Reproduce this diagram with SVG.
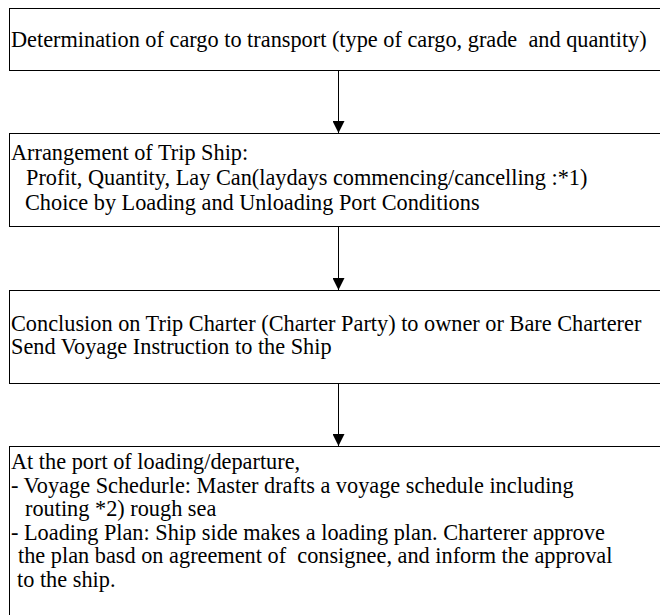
<svg xmlns="http://www.w3.org/2000/svg" width="660" height="615" viewBox="0 0 660 615">
<style>
.box{fill:#fff;stroke:#000;stroke-width:1}
.t{font-family:"Liberation Serif","Times New Roman",serif;font-size:22.3px;fill:#000}
.c{stroke:#000;stroke-width:1;fill:none}
</style>
<defs>
<marker id="ah" viewBox="0 0 12 12" refX="12" refY="6" markerWidth="12" markerHeight="12" markerUnits="userSpaceOnUse" orient="auto">
<path d="M0,0 L12,6 L0,12 Z" fill="#000"/>
</marker>
</defs>
<rect width="660" height="615" fill="#fff"/>
<g id="n1">
<rect class="box" x="9.5" y="8.5" width="660" height="62"/>
<text class="t" x="11" y="46.5" xml:space="preserve">Determination of cargo to transport (type of cargo, grade  and quantity)</text>
</g>
<g id="n2">
<rect class="box" x="9.5" y="133.5" width="660" height="93"/>
<text class="t" x="11" y="160">Arrangement of Trip Ship:</text>
<text class="t" x="26" y="185">Profit, Quantity, Lay Can(laydays commencing/cancelling :*1)</text>
<text class="t" x="25" y="210">Choice by Loading and Unloading Port Conditions</text>
</g>
<g id="n3">
<rect class="box" x="9.5" y="290.5" width="660" height="93"/>
<text class="t" x="11" y="331">Conclusion on Trip Charter (Charter Party) to owner or Bare Charterer</text>
<text class="t" x="11" y="354">Send Voyage Instruction to the Ship</text>
</g>
<g id="n4">
<rect class="box" x="9.5" y="446.5" width="660" height="180"/>
<text class="t" x="11" y="469">At the port of loading/departure,</text>
<text class="t" x="11" y="493">- Voyage Schedurle: Master drafts a voyage schedule including</text>
<text class="t" x="25" y="516">routing *2) rough sea</text>
<text class="t" x="11" y="540">- Loading Plan: Ship side makes a loading plan. Charterer approve</text>
<text class="t" x="18" y="563" xml:space="preserve">the plan basd on agreement of  consignee, and inform the approval</text>
<text class="t" x="17" y="587">to the ship.</text>
</g>
<g id="connectors">
<line class="c" x1="338.5" y1="70.5" x2="338.5" y2="133" marker-end="url(#ah)"/>
<line class="c" x1="338.5" y1="226.5" x2="338.5" y2="290" marker-end="url(#ah)"/>
<line class="c" x1="338.5" y1="383.5" x2="338.5" y2="446" marker-end="url(#ah)"/>
</g>
</svg>
